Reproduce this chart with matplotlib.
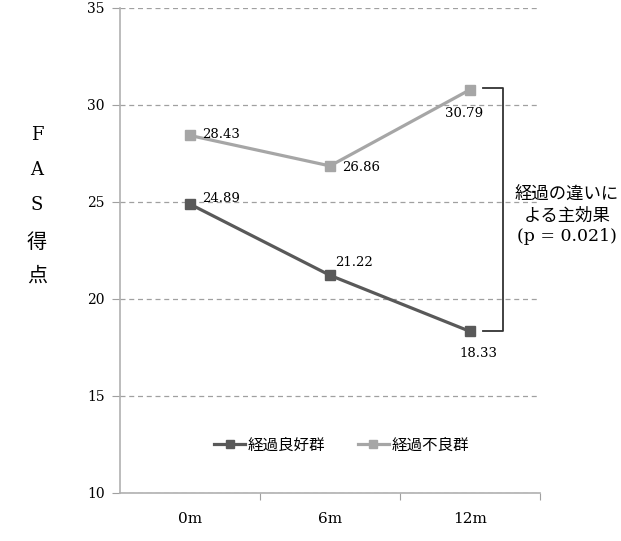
import matplotlib.pyplot as plt
from matplotlib.lines import Line2D

plt.rcParams['font.family'] = ['DejaVu Serif', 'Noto Sans CJK JP']

# data
periods = ['0m', '6m', '12m']
good = [24.89, 21.22, 18.33]   # 経過良好群
poor = [28.43, 26.86, 30.79]   # 経過不良群
series_names = ['経過良好群', '経過不良群']
yticks = [10, 15, 20, 25, 30, 35]

dark = '#595959'
light = '#a6a6a6'

fig = plt.figure(figsize=(6.21, 5.41), dpi=100)
ax = fig.add_axes([120/621, 48/541, 420/621, 485/541])

x = list(range(len(periods)))
ax.plot(x, good, color=dark, lw=2.3, marker='s', ms=7, label=series_names[0])
ax.plot(x, poor, color=light, lw=2.3, marker='s', ms=7, label=series_names[1])

ax.set_xlim(-0.5, 2.5)
ax.set_ylim(10, 35)
ax.set_yticks(yticks)
ax.set_xticks([0.5, 1.5, 2.5])
ax.set_xticklabels([])
for xi, lab in zip(x, periods):
    ax.text(xi, -26/485, lab, transform=ax.get_xaxis_transform(), ha='center', va='center', fontsize=11)

ax.yaxis.grid(True, ls=(0, (4, 3)), color='#a0a0a0', lw=0.9)
ax.set_axisbelow(True)
for s in ['top', 'right']:
    ax.spines[s].set_visible(False)
for s in ['left', 'bottom']:
    ax.spines[s].set_color('#b0b0b0')
    ax.spines[s].set_linewidth(1.2)
ax.tick_params(axis='y', length=6, color='#a0a0a0', labelsize=10, pad=5)
ax.tick_params(axis='x', length=5, color='#a0a0a0')

# data labels (offsets in points)
offs_good = [(9, 4, 'left'), (4, 9, 'left'), (6, -16, 'center')]
offs_poor = [(9, 1, 'left'), (9, -1, 'left'), (-4, -17, 'center')]
for xi, v, (dx, dy, ha) in zip(x, good, offs_good):
    ax.annotate(f'{v:.2f}', (xi, v), xytext=(dx, dy), textcoords='offset points',
                ha=ha, va='center', fontsize=9.5)
for xi, v, (dx, dy, ha) in zip(x, poor, offs_poor):
    ax.annotate(f'{v:.2f}', (xi, v), xytext=(dx, dy), textcoords='offset points',
                ha=ha, va='center', fontsize=9.5)

# bracket
ax.plot([2.09, 2.235, 2.235, 2.09], [30.88, 30.88, 18.35, 18.35], color='#333333',
        lw=1.3, clip_on=False, solid_joinstyle='round')
fig.text(567/621, 1 - 216/541, '経過の違いに\nよる主効果\n(p = 0.021)', ha='center', va='center',
         fontsize=12.5, linespacing=1.3)

# y label, stacked characters
for ch, yy, fs in zip(['F', 'A', 'S', '得', '点'], [135, 170, 205, 243, 276], [13, 13, 13, 14.5, 14.5]):
    fig.text(37/621, 1 - yy/541, ch, ha='center', va='center', fontsize=fs)

handles = [Line2D([], [], color=dark, lw=2.3, marker='s', ms=6),
           Line2D([], [], color=light, lw=2.3, marker='s', ms=6)]
ax.legend(handles, series_names, loc='center', bbox_to_anchor=(0.527, 48/485),
          ncol=2, frameon=False, fontsize=11.2, handlelength=2.0, columnspacing=2.1,
          handletextpad=0.15)

fig.savefig('out.png', dpi=100)
